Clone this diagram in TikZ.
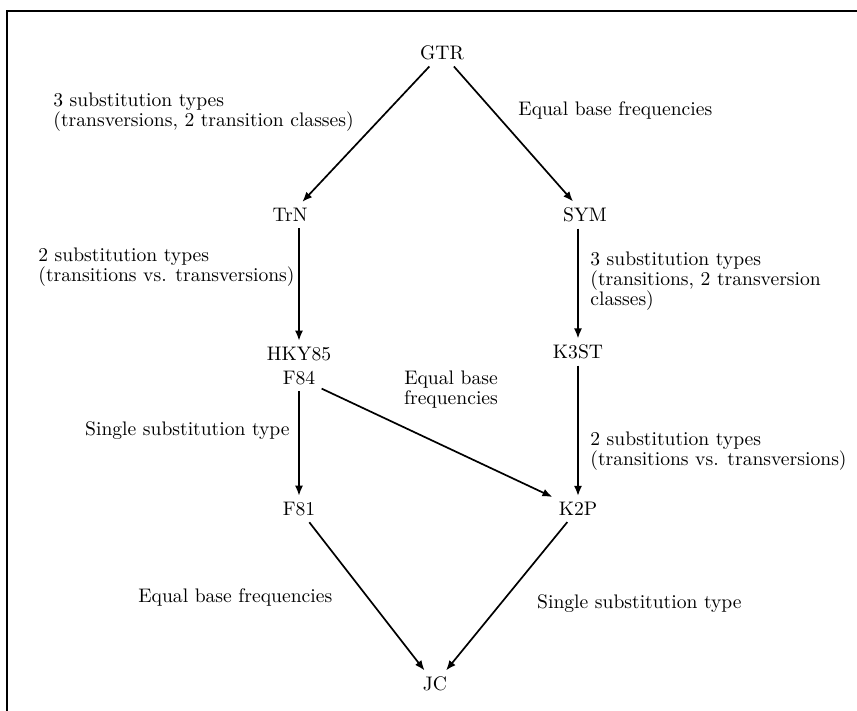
\documentclass[tikz,border=0pt]{standalone}
\usetikzlibrary{arrows.meta}
\begin{document}
\begin{tikzpicture}[x=0.5pt,y=-0.5pt,
  every node/.style={font=\fontsize{9.8}{10}\selectfont},
  model/.style={inner sep=3pt},
  note/.style={align=left,anchor=west,inner sep=0pt},
  arr/.style={-{Latex[length=5pt,width=4pt]},line width=0.85pt}]
\useasboundingbox (0,0) rectangle (857,711);

% frame
\draw[line width=1.2pt] (7,730) -- (7,11) -- (880,11);

% models
\node[model] (gtr) at (442,53) {GTR};
\node[model] (trn) at (290,215) {TrN};
\node[model] (sym) at (585,215) {SYM};
\node[model] (hky) at (299,354) {HKY85};
\node[model] (f84) at (299,378) {F84};
\node[model] (k3st) at (578,352) {K3ST};
\node[model] (f81) at (299,509) {F81};
\node[model] (k2p) at (578,509) {K2P};
\node[model] (jc) at (435,684) {JC};

% labels
\node[note] (l1) at (53,112) {3 substitution types\\(transversions, 2 transition classes)};
\node[note] (l2) at (518,110) {Equal base frequencies};
\node[note] (l3) at (38,267) {2 substitution types\\(transitions vs. transversions)};
\node[note] (l4) at (590,281) {3 substitution types\\(transitions, 2 transversion\\classes)};
\node[note,align=center,anchor=center] (l5) at (451,390) {Equal base\\frequencies};
\node[note,anchor=east] (l6) at (290,431) {Single substitution type};
\node[note] (l7) at (590,451) {2 substitution types\\(transitions vs. transversions)};
\node[note] (l8) at (138,597) {Equal base frequencies};
\node[note,anchor=east] (l9) at (742,604) {Single substitution type};

% arrows
\draw[arr] (gtr) -- (trn);
\draw[arr] (gtr) -- (sym);
\draw[arr] (hky |- trn.south) -- (hky);
\draw[arr] (k3st |- sym.south) -- (k3st);
\draw[arr] (f84) -- (f81);
\draw[arr] (f84) -- (k2p);
\draw[arr] (k3st) -- (k2p);
\draw[arr] (f81) -- (jc);
\draw[arr] (k2p) -- (jc);
\end{tikzpicture}
\end{document}
